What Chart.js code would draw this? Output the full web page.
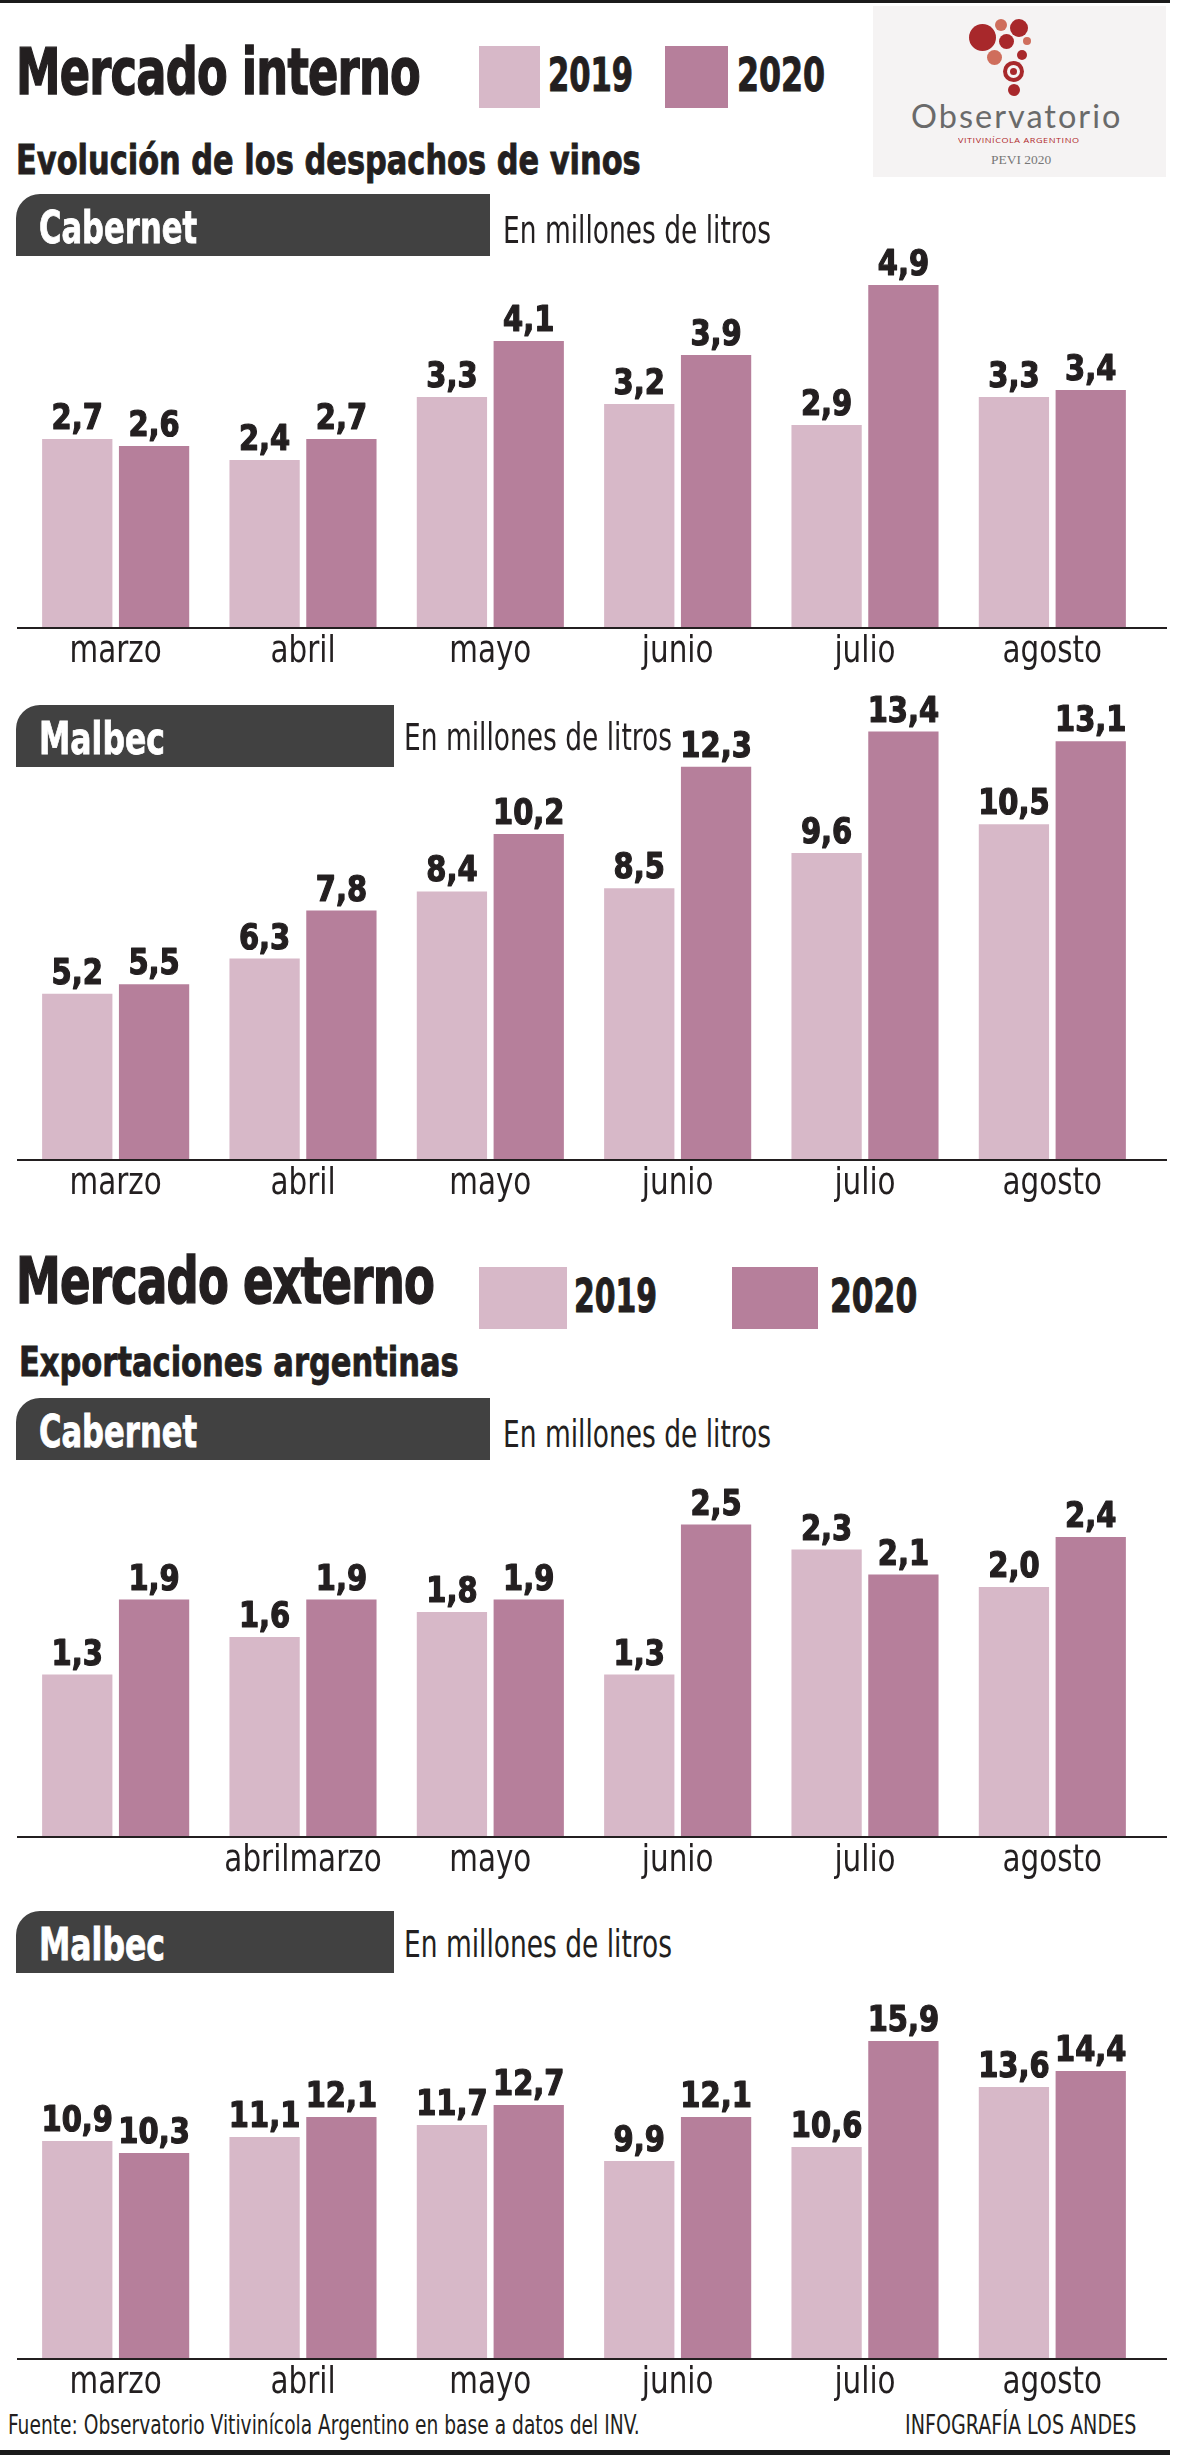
<!DOCTYPE html>
<html lang="es">
<head>
<meta charset="utf-8">
<title>Mercado interno / Mercado externo</title>
<script src="https://cdn.jsdelivr.net/npm/chart.js@4.4.1/dist/chart.umd.min.js"></script>
<style>
  html, body { margin: 0; padding: 0; background: #fff; }
  body {
    width: 1177px; height: 2455px; position: relative; overflow: hidden;
    font-family: "Liberation Sans Narrow", "DejaVu Sans Condensed", "Roboto", sans-serif;
    color: #231f20;
  }
  .abs { position: absolute; line-height: 1; white-space: nowrap; transform-origin: left top; }
  .rule { position: absolute; left: 0; width: 1170px; background: #1b1b1b; }
  .title { font-weight: 700; font-size: 64px; letter-spacing: -1px; -webkit-text-stroke: 1.4px #231f20; }
  .sub { font-weight: 700; font-size: 40px; -webkit-text-stroke: 0.8px #231f20; }
  .sq { position: absolute; }
  .c19 { background: #d7b8c8; }
  .c20 { background: #b67f9b; }
  .yr { font-weight: 700; font-size: 46px; -webkit-text-stroke: 1px #231f20; }
  .tab { position: absolute; left: 16px; height: 62px; background: #414141; border-top-left-radius: 24px; z-index: 2; }
  .tab span { position: absolute; left: 23px; top: 11px; color: #fff; font-weight: 700; font-size: 45px; line-height: 1; white-space: nowrap; transform-origin: left top; -webkit-text-stroke: 0.8px #fff; }
  .unit { font-size: 37px; z-index: 2; }
  canvas { position: absolute; left: 0; z-index: 1; }
  .foot { font-size: 26px; }
  #logo { position: absolute; left: 873px; top: 6px; width: 293px; height: 171px; background: #f5f3f3; }
  .dot { position: absolute; border-radius: 50%; }
</style>
</head>
<body>
<div class="rule" style="top:0;height:3px"></div>

<div class="abs title" data-w="404" style="left:16px;top:40px">Mercado interno</div>
<div class="sq c19" style="left:479px;top:46px;width:61px;height:62px"></div>
<div class="abs yr" data-w="85" style="left:548px;top:52px">2019</div>
<div class="sq c20" style="left:665px;top:46px;width:63px;height:62px"></div>
<div class="abs yr" data-w="88" style="left:737px;top:52px">2020</div>

<div id="logo">
  <div class="dot" style="left:96px;top:18px;width:27px;height:27px;background:#a8282b"></div>
  <div class="dot" style="left:137px;top:13px;width:18px;height:18px;background:#a8282b"></div>
  <div class="dot" style="left:122px;top:13px;width:12px;height:12px;background:#cf6e5c"></div>
  <div class="dot" style="left:126px;top:28px;width:15px;height:15px;background:#a8282b"></div>
  <div class="dot" style="left:150px;top:31px;width:8px;height:8px;background:#cf6e5c"></div>
  <div class="dot" style="left:114px;top:44px;width:15px;height:15px;background:#cf6e5c"></div>
  <div class="dot" style="left:144px;top:44px;width:10px;height:10px;background:#a8282b"></div>
  <div class="dot" style="left:130px;top:55px;width:21px;height:21px;background:#a8282b"></div>
  <div class="dot" style="left:134px;top:59px;width:13px;height:13px;background:#f5f3f3"></div>
  <div class="dot" style="left:137px;top:62px;width:7px;height:7px;background:#a8282b"></div>
  <div class="dot" style="left:135px;top:78px;width:12px;height:12px;background:#a8282b"></div>
  <div class="abs" data-w="212" style="left:38px;top:94px;font-family:Lato,'Open Sans',sans-serif;font-size:32px;letter-spacing:2px;color:#6a6a6a">Observatorio</div>
  <div class="abs" data-w="122" style="left:85px;top:130px;font-family:'Open Sans',sans-serif;font-size:8px;letter-spacing:0.5px;color:#b0282a">VITIVINÍCOLA ARGENTINO</div>
  <div class="abs" data-w="60" style="left:118px;top:147px;font-family:'Liberation Serif',serif;font-size:13px;color:#777">PEVI 2020</div>
</div>

<div class="abs sub" data-w="624" style="left:16px;top:140px">Evolución de los despachos de vinos</div>

<div class="tab" style="top:194px;width:474px"><span data-w="158">Cabernet</span></div>
<div class="abs unit" data-w="268" style="left:503px;top:212px">En millones de litros</div>
<canvas id="c1" width="1177" height="442" style="top:236px"></canvas>

<div class="tab" style="top:705px;width:378px"><span data-w="126">Malbec</span></div>
<div class="abs unit" data-w="268" style="left:404px;top:719px">En millones de litros</div>
<canvas id="c2" width="1177" height="520" style="top:690px"></canvas>

<div class="abs title" data-w="418" style="left:16px;top:1249px">Mercado externo</div>
<div class="sq c19" style="left:479px;top:1267px;width:88px;height:62px"></div>
<div class="abs yr" data-w="83" style="left:574px;top:1273px">2019</div>
<div class="sq c20" style="left:732px;top:1267px;width:86px;height:62px"></div>
<div class="abs yr" data-w="87" style="left:830px;top:1273px">2020</div>

<div class="abs sub" data-w="440" style="left:19px;top:1342px">Exportaciones argentinas</div>

<div class="tab" style="top:1398px;width:474px"><span data-w="158">Cabernet</span></div>
<div class="abs unit" data-w="268" style="left:503px;top:1416px">En millones de litros</div>
<canvas id="c3" width="1177" height="425" style="top:1462px"></canvas>

<div class="tab" style="top:1911px;width:378px"><span data-w="126">Malbec</span></div>
<div class="abs unit" data-w="268" style="left:404px;top:1926px">En millones de litros</div>
<canvas id="c4" width="1177" height="434" style="top:1975px"></canvas>

<div class="abs foot" data-w="632" style="left:8px;top:2412px">Fuente: Observatorio Vitivinícola Argentino en base a datos del INV.</div>
<div class="abs foot" data-w="231" data-o="right top" style="right:41px;top:2412px">INFOGRAFÍA LOS ANDES</div>
<div class="rule" style="top:2450px;height:5px"></div>

<script>
const months = ["marzo", "abril", "mayo", "junio", "julio", "agosto"];
// the export Cabernet panel prints its first two month labels merged
const monthsExpCab = ["", "abrilmarzo", "mayo", "junio", "julio", "agosto"];

const intCab2019 = [2.7, 2.4, 3.3, 3.2, 2.9, 3.3];
const intCab2020 = [2.6, 2.7, 4.1, 3.9, 4.9, 3.4];
const intMal2019 = [5.2, 6.3, 8.4, 8.5, 9.6, 10.5];
const intMal2020 = [5.5, 7.8, 10.2, 12.3, 13.4, 13.1];
const expCab2019 = [1.3, 1.6, 1.8, 1.3, 2.3, 2.0];
const expCab2020 = [1.9, 1.9, 1.9, 2.5, 2.1, 2.4];
const expMal2019 = [10.9, 11.1, 11.7, 9.9, 10.6, 13.6];
const expMal2020 = [10.3, 12.1, 12.7, 12.1, 15.9, 14.4];

const FONT = '"Liberation Sans Narrow", "DejaVu Sans Condensed", Roboto, sans-serif';
const INK = "#231f20";

// squeeze headline texts to the widths of the condensed original type
document.querySelectorAll("[data-w]").forEach(el => {
  const s = +el.dataset.w / el.offsetWidth;
  el.style.transform = "scaleX(" + s.toFixed(3) + ")";
  if (el.dataset.o) el.style.transformOrigin = el.dataset.o;
});

function squeezedText(ctx, txt, x, y, sx, stroke) {
  ctx.save();
  ctx.translate(x, y);
  ctx.scale(sx, 1);
  if (stroke) ctx.strokeText(txt, 0, 0);
  ctx.fillText(txt, 0, 0);
  ctx.restore();
}

// value above every bar, with comma decimals
const valueLabels = {
  id: "valueLabels",
  afterDatasetsDraw(chart) {
    const ctx = chart.ctx;
    ctx.save();
    ctx.font = "bold 35px " + FONT;
    ctx.fillStyle = INK;
    ctx.strokeStyle = INK;
    ctx.lineWidth = 1.2;
    ctx.lineJoin = "round";
    ctx.textAlign = "center";
    ctx.textBaseline = "alphabetic";
    chart.data.datasets.forEach((ds, i) => {
      chart.getDatasetMeta(i).data.forEach((bar, j) => {
        const txt = ds.data[j].toFixed(1).replace(".", ",");
        squeezedText(ctx, txt, bar.x, bar.y - 10, 0.92, true);
      });
    });
    ctx.restore();
  }
};

// month names under the axis, in the narrow type, plus the long baseline
const axisDecor = {
  id: "axisDecor",
  afterDraw(chart) {
    const ctx = chart.ctx;
    const xs = chart.scales.x;
    const y = chart.scales.y.getPixelForValue(0);
    ctx.save();
    ctx.strokeStyle = INK;
    ctx.lineWidth = 2;
    ctx.beginPath();
    ctx.moveTo(17, y);
    ctx.lineTo(1167, y);
    ctx.stroke();
    ctx.font = "38px " + FONT;
    ctx.fillStyle = INK;
    ctx.textAlign = "center";
    ctx.textBaseline = "alphabetic";
    chart.data.labels.forEach((lab, i) => {
      squeezedText(ctx, lab, xs.getPixelForTick(i), y + 34, 0.86, false);
    });
    ctx.restore();
  }
};

function makeChart(id, labels, v2019, v2020, yMax) {
  return new Chart(document.getElementById(id), {
    type: "bar",
    data: {
      labels,
      datasets: [
        { label: "2019", data: v2019, backgroundColor: "#d7b8c8" },
        { label: "2020", data: v2020, backgroundColor: "#b67f9b" }
      ]
    },
    options: {
      responsive: false,
      animation: false,
      devicePixelRatio: 1,
      categoryPercentage: 0.82,
      barPercentage: 0.915,
      layout: { padding: { left: 22, right: 31, top: 0, bottom: 0 } },
      plugins: { legend: { display: false }, tooltip: { enabled: false } },
      scales: {
        x: {
          grid: { display: false, drawTicks: false },
          border: { display: false },
          ticks: { display: false, autoSkip: false },
          afterFit: (axis) => { axis.height = 50; }
        },
        y: { display: false, min: 0, max: yMax }
      }
    },
    plugins: [valueLabels, axisDecor]
  });
}

makeChart("c1", months, intCab2019, intCab2020, 5.6);
makeChart("c2", months, intMal2019, intMal2020, 14.7);
makeChart("c3", monthsExpCab, expCab2019, expCab2020, 3.0);
makeChart("c4", months, expMal2019, expMal2020, 19.2);
</script>
</body>
</html>
